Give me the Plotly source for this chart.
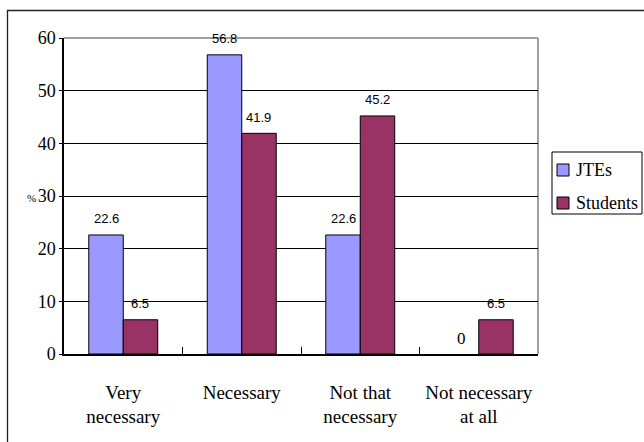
import plotly.graph_objects as go

# Survey responses (%)
categories = ["Very<br>necessary", "Necessary", "Not that<br>necessary", "Not necessary<br>at all"]
series_names = ["JTEs", "Students"]
jtes = [22.6, 56.8, 22.6, 0]
students = [6.5, 41.9, 45.2, 6.5]
y_ticks = [0, 10, 20, 30, 40, 50, 60]

colors = ["#9999FF", "#993366"]
serif = "Liberation Serif"
sans = "Liberation Sans"

W, H = 644, 442
L, R, T, B = 64, 106, 38, 88
plot_w, plot_h = W - L - R, H - T - B

def px_x(px):
    return (px - L) / plot_w

def px_y(py):
    return (H - B - py) / plot_h

fig = go.Figure()
for name, vals, col in zip(series_names, [jtes, students], colors):
    fig.add_trace(go.Bar(
        x=categories, y=vals, name=name,
        marker=dict(color=col,
                    line=dict(color="black", width=[1 if v else 0 for v in vals])),
        showlegend=False,
    ))

bargap = 0.418
cat_w = plot_w / len(categories)
half_bar = cat_w * (1 - bargap) / 4

# value labels above each bar
annotations = []
for k, vals in enumerate([jtes, students]):
    shift = -half_bar if k == 0 else half_bar
    for c, v in zip(categories, vals):
        annotations.append(dict(
            x=c, y=v, xref="x", yref="y", xshift=shift, yshift=16,
            text=f"{v:g}", showarrow=False, yanchor="middle",
            font=dict(family=serif if v == 0 else sans,
                      size=17 if v == 0 else 13, color="black"),
        ))

# axis unit label
annotations.append(dict(
    x=px_x(25), y=px_y(198), xref="paper", yref="paper", text="%",
    showarrow=False, font=dict(family=serif, size=11, color="black"),
))

shapes = [
    # outer frame
    dict(type="rect", xref="paper", yref="paper",
         x0=px_x(7.5), x1=px_x(660), y0=px_y(460), y1=px_y(10.5),
         line=dict(color="#222222", width=1.3), layer="below"),
    # top and right borders of the plotting area
    dict(type="line", xref="paper", yref="paper", x0=0, x1=1, y0=1, y1=1,
         line=dict(color="#808080", width=1.5), layer="below"),
    dict(type="line", xref="paper", yref="paper", x0=1, x1=1, y0=0, y1=1,
         line=dict(color="#808080", width=1.5), layer="below"),
    # legend box
    dict(type="rect", xref="paper", yref="paper",
         x0=px_x(552), x1=px_x(642), y0=px_y(214), y1=px_y(152),
         line=dict(color="black", width=1), fillcolor="white"),
]

# legend entries
legend_y = [170, 203]
for name, col, ly in zip(series_names, colors, legend_y):
    shapes.append(dict(
        type="rect", xref="paper", yref="paper",
        x0=px_x(557), x1=px_x(569), y0=px_y(ly + 6), y1=px_y(ly - 6),
        fillcolor=col, line=dict(color="black", width=1),
    ))
    annotations.append(dict(
        x=px_x(574), y=px_y(ly), xref="paper", yref="paper", text=name,
        showarrow=False, xanchor="left", yanchor="middle",
        font=dict(family=serif, size=18, color="black"),
    ))

fig.update_layout(
    width=W, height=H,
    margin=dict(l=L, r=R, t=T, b=B),
    paper_bgcolor="white", plot_bgcolor="white",
    barmode="group", bargap=bargap, bargroupgap=0,
    annotations=annotations, shapes=shapes,
    xaxis=dict(
        type="category", showline=True, linecolor="black", linewidth=1.5,
        ticks="inside", tickson="boundaries", ticklen=7, tickcolor="black",
        showgrid=False, ticklabelstandoff=20,
        tickfont=dict(family=serif, size=19, color="black"),
    ),
    yaxis=dict(
        range=[0, 60], tickvals=y_ticks, showline=True, linecolor="black",
        linewidth=1.5, ticks="outside", ticklen=3, tickcolor="black",
        showgrid=True, gridcolor="black", gridwidth=1, zeroline=False,
        ticklabelstandoff=0, ticksuffix="\u00a0\u00a0",
        tickfont=dict(family=serif, size=18, color="black"),
    ),
)

fig.write_html("out.html")
